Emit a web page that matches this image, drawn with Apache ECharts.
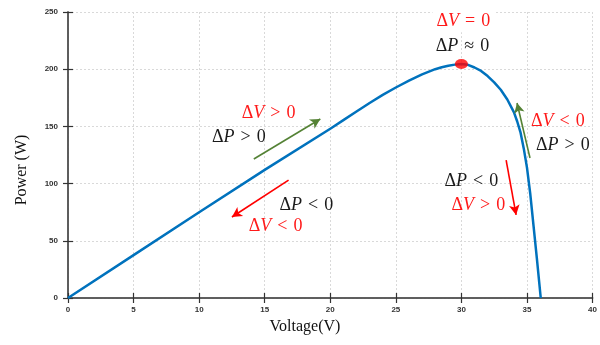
<!DOCTYPE html>
<html>
<head>
<meta charset="utf-8">
<script src="https://cdn.jsdelivr.net/npm/echarts@6/dist/echarts.min.js"></script>
<style>
html,body{margin:0;padding:0;background:#fff;}
#chart{width:600px;height:345px;}
</style>
</head>
<body>
<div id="chart"></div>
<script>
// ---- data ----
const voltage = [0, 5, 10, 15, 20, 21, 22, 23, 24, 25, 26, 27, 28, 28.5, 29, 29.5, 30, 30.5, 31, 31.5, 32, 32.5, 33, 33.5, 34, 34.25, 34.5, 34.75, 35, 35.25, 35.5, 35.75, 36.05];
const power   = [0, 37.5, 75, 112, 148, 155.5, 163, 170.5, 177.5, 184, 190, 195.5, 200, 201.7, 203, 204, 204.5, 203.8, 201.5, 198.5, 194, 188.5, 182, 173.5, 162.5, 154.5, 145, 131, 114, 91, 63, 35, 0];
const peakPoint = [30, 204.5];
const xTicks = [0, 5, 10, 15, 20, 25, 30, 35, 40];
const yTicks = [0, 50, 100, 150, 200, 250];
// annotation arrows (from, to) in data units
const arrowsGreen = [[[14.17, 121.5], [19.24, 156.5]], [[35.23, 122.4], [34.24, 170.5]]];
const arrowsRed   = [[[16.82, 103.1], [12.5, 70.8]], [[33.41, 120.6], [34.17, 72.6]]];
// annotation texts: [symbol, relation, color kind, V, P]
const notes = [
  ['V', '=', 'red', 30.15, 242],
  ['P', '≈', 'black', 30.08, 220.3],
  ['V', '>', 'red', 15.3, 161.7],
  ['P', '>', 'black', 13.03, 140.7],
  ['P', '<', 'black', 18.18, 81.3],
  ['V', '<', 'red', 15.83, 62.9],
  ['V', '<', 'red', 37.35, 154.7],
  ['P', '>', 'black', 37.73, 133.7],
  ['P', '<', 'black', 30.76, 102.3],
  ['V', '>', 'red', 31.29, 81.3]
];

const chart = echarts.init(document.getElementById('chart'));
const lineData = voltage.map((v, i) => [v, power[i]]);
const tickLabel = {fontSize: 8, color: '#333', fontFamily: 'Arial, Liberation Sans, sans-serif', fontWeight: 'bold'};
const axisLine = {show: true, lineStyle: {color: '#555', width: 1.5}};
const splitLine = {show: true, lineStyle: {color: '#d9d9d9', type: [2, 2], width: 1}};

function mkArrows(list, color) {
  return list.map(a => [
    {coord: a[0], lineStyle: {color: color, width: 1.6, type: 'solid'}},
    {coord: a[1]}
  ]);
}

chart.setOption({
  animation: false,
  grid: {left: 68, right: 4, top: 12, bottom: 47},
  xAxis: [
    {type: 'value', min: 0, max: 40, interval: 5, position: 'bottom',
     axisLine: axisLine, axisTick: {show: true, inside: true, length: 5, lineStyle: {color: '#333', width: 1.2}},
     axisLabel: Object.assign({margin: 8}, tickLabel), splitLine: splitLine},
    {type: 'value', min: 0, max: 40, interval: 5, position: 'top',
     axisLine: axisLine, axisTick: {show: true, inside: true, length: 5, lineStyle: {color: '#333', width: 1.2}},
     axisLabel: {show: false}, splitLine: {show: false}}
  ],
  yAxis: [
    {type: 'value', min: 0, max: 250, interval: 50, position: 'left',
     axisLine: axisLine, axisTick: {show: true, inside: true, length: 5, lineStyle: {color: '#333', width: 1.2}},
     axisLabel: Object.assign({margin: 10}, tickLabel), splitLine: splitLine},
    {type: 'value', min: 0, max: 250, interval: 50, position: 'right',
     axisLine: axisLine, axisTick: {show: true, inside: true, length: 5, lineStyle: {color: '#333', width: 1.2}},
     axisLabel: {show: false}, splitLine: {show: false}}
  ],
  series: [
    {type: 'line', data: lineData, showSymbol: false, smooth: false,
     lineStyle: {color: '#0072BD', width: 2.5, join: 'round'}, z: 3,
     markLine: {silent: true, symbol: ['none', 'arrow'], symbolSize: [8, 10], label: {show: false},
       data: mkArrows(arrowsGreen, '#548235').concat(mkArrows(arrowsRed, '#ff0000'))}},
    {type: 'scatter', data: [peakPoint], symbol: 'circle', symbolSize: [13, 10],
     itemStyle: {color: '#ff0000'}, z: 5}
  ]
});

const gfx = [];
notes.forEach(n => {
  const p = chart.convertToPixel({xAxisIndex: 0, yAxisIndex: 0}, [n[3], n[4]]);
  const col = n[2] === 'red' ? '#ff1a1a' : '#1a1a1a';
  const fam = 'Liberation Serif, DejaVu Serif, serif';
  gfx.push({
    type: 'text', x: p[0], y: p[1], z: 100,
    style: {
      text: '{n|Δ}{i|' + n[0] + '}{s| }{n|' + n[1] + '}{s| }{n|0}',
      align: 'center', verticalAlign: 'middle',
      backgroundColor: (n[1] === '=') ? '#fff' : 'transparent',
      padding: (n[1] === '=') ? [2, 4] : 0,
      rich: {
        n: {fontFamily: fam, fontSize: 18, fill: col, color: col},
        s: {fontFamily: fam, fontSize: 18, width: 6},
        i: {fontFamily: fam, fontSize: 18, fontStyle: 'italic', fill: col, color: col}
      }
    }
  });
});
gfx.push({type: 'text', x: 305, y: 327, style: {text: 'Voltage(V)', align: 'center', verticalAlign: 'middle',
  font: '16px "Liberation Serif", serif', fill: '#111'}});
gfx.push({type: 'text', x: 22, y: 170, rotation: Math.PI / 2, style: {text: 'Power (W)', align: 'center', verticalAlign: 'middle',
  font: '16px "Liberation Serif", serif', fill: '#111'}});
chart.setOption({graphic: gfx});
</script>
</body>
</html>
